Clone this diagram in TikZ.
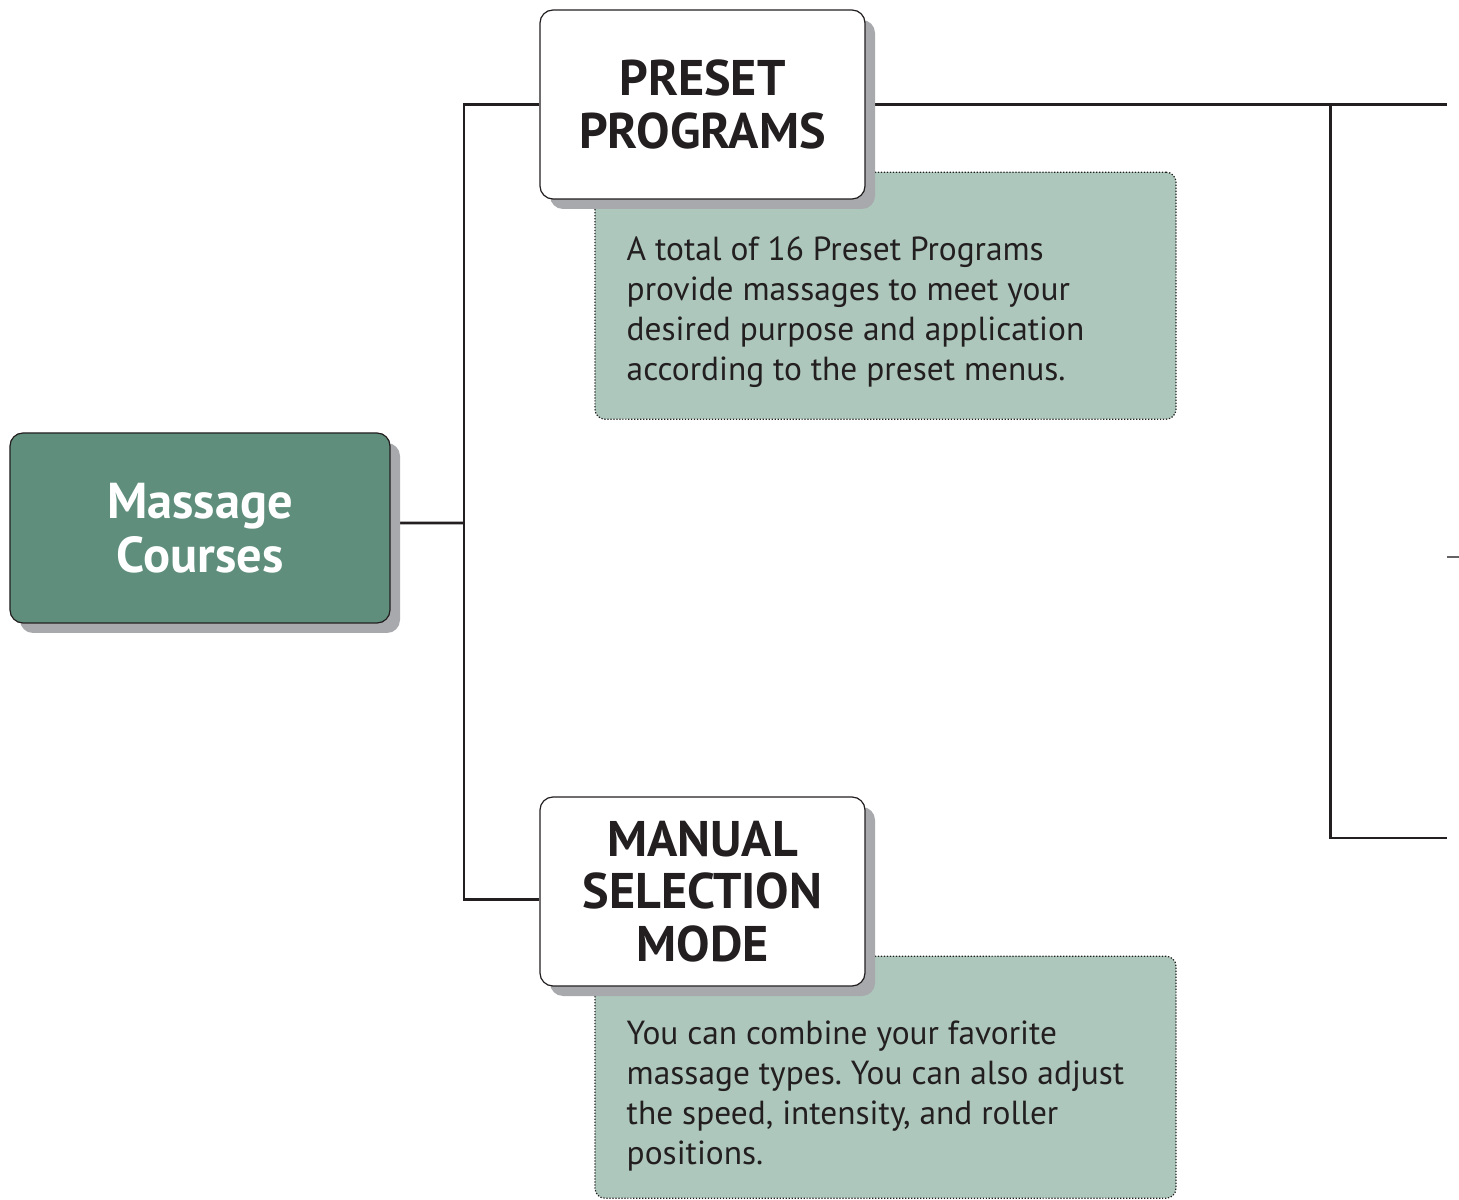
\documentclass[tikz,border=0pt]{standalone}
\usepackage{fontspec}
\setmainfont{PT Sans}
\frenchspacing
\usetikzlibrary{positioning, shadows, backgrounds}
\definecolor{mcgreen}{HTML}{5F8F7C}
\definecolor{mcnote}{HTML}{ADC7BC}
\definecolor{mcshadow}{HTML}{A7A9AC}
\definecolor{mcink}{HTML}{231F20}
\tikzset{
    mc_course/.style={
        rectangle,
        rounded corners=0.26cm,
        draw=mcink,
        line width=0.7pt,
        fill=mcgreen,
        text=white,
        general shadow={fill=mcshadow, shadow xshift=0.2cm, shadow yshift=-0.2cm},
        minimum width=7.6cm,
        minimum height=3.8cm,
        align=center,
        font=\fontsize{28.7}{31}\selectfont\bfseries
    },
    mc_mode/.style={
        rectangle,
        rounded corners=0.26cm,
        draw=mcink,
        line width=0.7pt,
        fill=white,
        text=mcink,
        general shadow={fill=mcshadow, shadow xshift=0.2cm, shadow yshift=-0.2cm},
        minimum width=6.5cm,
        minimum height=3.78cm,
        align=center,
        font=\fontsize{28.5}{30}\selectfont\bfseries
    },
    mc_note/.style={
        rectangle,
        rounded corners=0.2cm,
        draw=mcink,
        densely dotted,
        line width=0.7pt,
        fill=mcnote,
        minimum width=11.62cm,
        inner sep=0pt
    },
    mc_note_text/.style={
        text=mcink,
        align=left,
        inner sep=0pt,
        font=\fontsize{19}{22.8}\selectfont
    },
    mc_line/.style={
        draw=mcink,
        line width=1.7pt
    }
}

\begin{document}
\begin{tikzpicture}
\useasboundingbox (0,0) rectangle (29.18,-24);

% Course and modes
\node[mc_course] (courseBox) at (4.0,-10.56) {Massage\\Courses};
\node[mc_mode] (presetBox) at (14.05,-2.09) {PRESET\\PROGRAMS};
\node[mc_mode] (manualBox) at (14.05,-17.83) {MANUAL\\SELECTION\\MODE};

% Tree lines, notes behind the boxes
\begin{scope}[on background layer]
\node[mc_note, minimum height=4.94cm, below right=-0.56cm and 1.1cm of presetBox.south west] (presetNote) {};
\node[mc_note_text, below right=1.3cm and 0.64cm of presetNote.north west] (presetText)
  {A total of 16 Preset Programs\\provide massages to meet your\\desired purpose and application\\according to the preset menus.};
\node[mc_note, minimum height=4.84cm, below right=-0.62cm and 1.1cm of manualBox.south west] (manualNote) {};
\node[mc_note_text, below right=1.3cm and 0.64cm of manualNote.north west] (manualText)
  {You can combine your favorite\\massage types. You can also adjust\\the speed, intensity, and roller\\positions.};

\coordinate (trunk) at (9.28,-10.46);
\coordinate (outTop) at (28.94,-2.09);
\coordinate (outJoin) at (26.6,-2.09);
\coordinate (outBottom) at (28.94,-16.76);
\coordinate (outStub) at (28.94,-11.14);
\coordinate (outStubEnd) at (29.18,-11.14);

\draw[mc_line] ([yshift=0.1cm]courseBox.east) -- (trunk);
\draw[mc_line] (presetBox.west) -| (trunk) |- ([yshift=-0.16cm]manualBox.west);
\draw[mc_line] (presetBox.east) -- (outTop);
\draw[mc_line] (outJoin) |- (outBottom);
\draw[mc_line, draw=mcink!70] (outStub) -- (outStubEnd);
\end{scope}

\end{tikzpicture}
\end{document}
